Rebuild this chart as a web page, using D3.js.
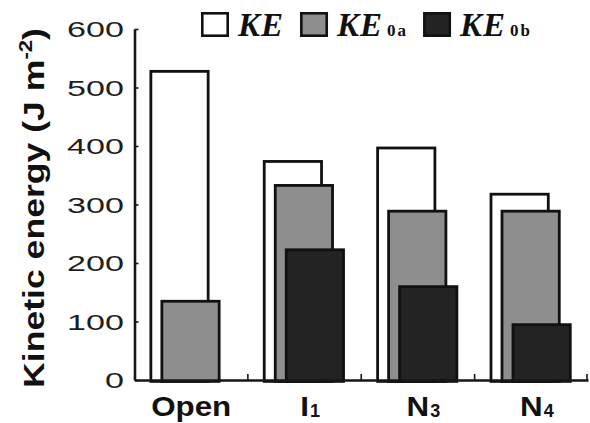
<!DOCTYPE html>
<html>
<head>
<meta charset="utf-8">
<script src="https://cdn.jsdelivr.net/npm/d3@7"></script>
<style>
  body { margin: 0; background: #fff; }
  svg { display: block; }
</style>
</head>
<body>
<script>
// categories and their labels (main letter + subscript)
const categories = ["Open", "I1", "N3", "N4"];
const categoryMain = ["Open", "I", "N", "N"];
const categorySub = ["", "1", "3", "4"];

// series
const seriesKeys = ["KE", "KE0a", "KE0b"];
const seriesMain = ["KE", "KE", "KE"];
const seriesSub = ["", "0a", "0b"];
const seriesFill = ["#ffffff", "#8e8e8e", "#232323"];

// values (J m-2)
const keValues = [530, 376, 399, 320];
const ke0aValues = [137, 335, 291, 291];
const ke0bValues = [null, 225, 162, 97];

const yTicks = [0, 100, 200, 300, 400, 500, 600];

const W = 590, H = 423;
const ink = "#161616";

const svg = d3.select("body").append("svg")
    .attr("width", W)
    .attr("height", H);

const x = d3.scaleBand().domain(categories).range([134.5, 588]).padding(0);
const y = d3.scaleLinear().domain([0, 600]).range([380, 29]);
// each series is shifted right a little inside the category
const shift = d3.scalePoint().domain(seriesKeys)
    .range([x.bandwidth() * 0.132, x.bandwidth() * 0.326]);
const barW = x.bandwidth() * 0.53;

const valuesBySeries = [keValues, ke0aValues, ke0bValues];

// bars: white first, then gray, then black on top
seriesKeys.forEach(function(key, si) {
    let rows = categories.map((c, i) => ({cat: c, value: valuesBySeries[si][i]}))
        .filter(d => d.value != null);
    svg.append("g")
        .selectAll("rect")
        .data(rows)
        .join("rect")
        .attr("x", d => x(d.cat) + shift(key) + 1.4)
        .attr("y", d => y(d.value) + 1.4)
        .attr("width", barW - 2.8)
        .attr("height", d => y(0) - y(d.value))
        .attr("fill", seriesFill[si])
        .attr("stroke", "#111")
        .attr("stroke-width", 2.8);
});

// y axis, ticks pointing inward, wide digits like the original
const yAxis = svg.append("g")
    .attr("transform", "translate(134.5,0)")
    .call(d3.axisLeft(y).tickValues(yTicks).tickSizeInner(-4).tickSizeOuter(0).tickPadding(6.8));
yAxis.select(".domain").attr("stroke", ink).attr("stroke-width", 2.6);
yAxis.selectAll(".tick line").attr("stroke", ink).attr("stroke-width", 1.6);
yAxis.selectAll(".tick text")
    .attr("font-family", "Liberation Sans, Arial, sans-serif")
    .attr("font-size", 22)
    .attr("fill", "#1e1e1e")
    .attr("dy", "0.36em")
    .attr("transform", "scale(1.55,1)");

// x axis line and ticks at category boundaries
const xAxis = svg.append("g")
    .attr("transform", "translate(0,380)")
    .call(d3.axisBottom(x).tickValues([]).tickSizeOuter(0));
xAxis.select(".domain").attr("stroke", ink).attr("stroke-width", 2.6);
let bounds = categories.map(c => x(c)).concat([x.range()[1] - 1]);
xAxis.selectAll(".bound")
    .data(bounds.slice(1))
    .join("line")
    .attr("x1", d => d).attr("x2", d => d)
    .attr("y1", 0).attr("y2", -6)
    .attr("stroke", ink).attr("stroke-width", 1.6);

// category labels
categories.forEach(function(c, i) {
    let cx = x(c) + x.bandwidth() / 2;
    let main = svg.append("text")
        .attr("font-family", "Liberation Sans, Arial, sans-serif")
        .attr("font-weight", "bold")
        .attr("font-size", 28)
        .attr("fill", "#111")
        .attr("text-anchor", "middle")
        .attr("transform", "translate(" + cx + ",416) scale(1.12,1)")
        .text(categoryMain[i]);
    if (categorySub[i] != "") {
        let w = main.node().getBBox().width * 1.12;
        svg.append("text")
            .attr("font-family", "Liberation Sans, Arial, sans-serif")
            .attr("font-weight", "bold")
            .attr("font-size", 18)
            .attr("fill", "#111")
            .attr("x", cx + w / 2 + 1)
            .attr("y", 417)
            .text(categorySub[i]);
    }
});

// y title, rotated and stretched along its length
const title = svg.append("text")
    .attr("font-family", "Liberation Sans, Arial, sans-serif")
    .attr("font-weight", "bold")
    .attr("font-size", 29)
    .attr("fill", "#111")
    .attr("text-anchor", "middle");
title.append("tspan").text("Kinetic energy (J m");
title.append("tspan").attr("font-size", 18).attr("dy", -12).text("-2");
title.append("tspan").attr("dy", 12).text(")");
let tLen = title.node().getBBox().width;
title.attr("transform", "translate(44,208) rotate(-90) scale(" + (360 / tLen) + ",1)");

// legend laid out left to right
let lx = 201;
seriesKeys.forEach(function(key, i) {
    svg.append("rect")
        .attr("x", lx + 1.3).attr("y", 13.3)
        .attr("width", 25.4).attr("height", 22.4)
        .attr("fill", seriesFill[i])
        .attr("stroke", "#111")
        .attr("stroke-width", 2.6);
    let t = svg.append("text")
        .attr("x", lx + 37)
        .attr("y", 36)
        .attr("font-family", "Liberation Serif, Times New Roman, serif")
        .attr("font-weight", "bold")
        .attr("font-style", "italic")
        .attr("font-size", 33)
        .attr("letter-spacing", 1)
        .attr("fill", "#111")
        .text(seriesMain[i]);
    let end = lx + 37 + t.node().getBBox().width;
    if (seriesSub[i] != "") {
        let s = svg.append("text")
            .attr("x", end + 3)
            .attr("y", 36)
            .attr("font-family", "Liberation Serif, Times New Roman, serif")
            .attr("font-weight", "bold")
            .attr("font-size", 17)
            .attr("letter-spacing", 2)
            .attr("fill", "#111")
            .text(seriesSub[i]);
        end = end + 3 + s.node().getBBox().width;
    }
    lx = end + 15;
});
</script>
</body>
</html>
